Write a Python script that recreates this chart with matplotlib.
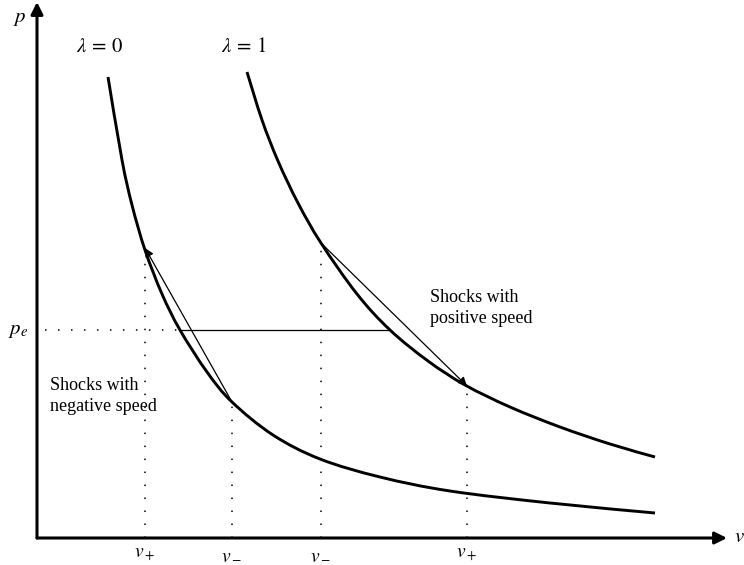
import matplotlib
matplotlib.use('Agg')
import matplotlib.pyplot as plt
from matplotlib.path import Path
from matplotlib.patches import PathPatch

plt.rcParams['font.family'] = ['Liberation Serif', 'DejaVu Serif']
plt.rcParams['mathtext.fontset'] = 'stix'

# lambda = 0 curve (v, p)
v0 = [71, 85, 95, 108, 125, 143, 170, 195, 236, 283, 343, 413, 513, 618]
p0 = [461, 378, 333, 288, 244, 208, 166, 136, 103, 79, 61, 47, 35, 25]
# lambda = 1 curve
v1 = [210, 225, 241, 261, 284, 320, 353, 391, 428, 473, 523, 573, 618]
p1 = [466, 418, 377, 335, 295, 244, 208, 177, 153, 131, 111, 94, 81]

# shock states
left_minus = (195, 136)
left_plus = (108, 290)
right_minus = (284, 295)
right_plus = (430, 152)
p_e = 208
pe_left, pe_right = 143, 353


def smooth_path(xs, ys):
    # cubic bezier through the read points (catmull-rom tangents)
    pts = list(zip(xs, ys))
    verts = [pts[0]]
    codes = [Path.MOVETO]
    n = len(pts)
    for i in range(n - 1):
        a = pts[i - 1] if i > 0 else pts[i]
        b = pts[i]
        c = pts[i + 1]
        d = pts[i + 2] if i + 2 < n else pts[i + 1]
        c1 = (b[0] + (c[0] - a[0]) / 6, b[1] + (c[1] - a[1]) / 6)
        c2 = (c[0] - (d[0] - b[0]) / 6, c[1] - (d[1] - b[1]) / 6)
        verts += [c1, c2, c]
        codes += [Path.CURVE4] * 3
    return Path(verts, codes)


fig = plt.figure(figsize=(7.44, 5.65), dpi=100)
ax = fig.add_axes([0, 0, 1, 1])
ax.set_xlim(-37, 707)
ax.set_ylim(-27, 538)
ax.axis('off')

# axes with arrows
ax.annotate('', xy=(690, 0), xytext=(0, 0),
            arrowprops=dict(arrowstyle='-|>', lw=2.2, color='black',
                            mutation_scale=18, shrinkA=0, shrinkB=0))
ax.annotate('', xy=(0, 536), xytext=(0, 0),
            arrowprops=dict(arrowstyle='-|>', lw=2.2, color='black',
                            mutation_scale=18, shrinkA=0, shrinkB=0))

# curves
for xs, ys in [(v0, p0), (v1, p1)]:
    ax.add_patch(PathPatch(smooth_path(xs, ys), fill=False, lw=2.1,
                           edgecolor='black', capstyle='butt'))

# dotted guides
dot = dict(color='black', lw=1.1, linestyle=(0, (1, 7.5)))
for v, p in [left_plus, left_minus, right_minus, right_plus]:
    ax.plot([v, v], [0, p], **dot)
ax.plot([8, pe_left], [p_e, p_e], **dot)

# p_e level
ax.plot([pe_left, pe_right], [p_e, p_e], color='black', lw=0.9)

# shocks
ax.annotate('', xy=left_plus, xytext=left_minus,
            arrowprops=dict(arrowstyle='-|>', lw=0.9, color='black',
                            mutation_scale=13, shrinkA=0, shrinkB=0))
ax.annotate('', xy=right_plus, xytext=right_minus,
            arrowprops=dict(arrowstyle='-|>', lw=0.9, color='black',
                            mutation_scale=13, shrinkA=0, shrinkB=0))

# labels
ax.text(-17, 520, r'$p$', fontsize=15, ha='center', va='center')
ax.text(702, 0, r'$v$', fontsize=15, ha='center', va='center')
ax.text(-19, p_e, r'$p_e$', fontsize=15, ha='center', va='center')
ax.text(left_plus[0], -17, r'$v_+$', fontsize=14, ha='center', va='center')
ax.text(left_minus[0], -17, r'$v_-$', fontsize=14, ha='center', va='center')
ax.text(right_minus[0], -17, r'$v_-$', fontsize=14, ha='center', va='center')
ax.text(right_plus[0], -17, r'$v_+$', fontsize=14, ha='center', va='center')
ax.text(63, 491, r'$\lambda\,=\,0$', fontsize=15, ha='center', va='center')
ax.text(207, 491, r'$\lambda\,=\,1$', fontsize=15, ha='center', va='center')

ax.text(13, 142, 'Shocks with\nnegative speed', fontsize=13, ha='left',
        va='center', linespacing=1.35)
ax.text(393, 230, 'Shocks with\npositive speed', fontsize=13, ha='left',
        va='center', linespacing=1.35)

fig.savefig('out.png', dpi=100)
